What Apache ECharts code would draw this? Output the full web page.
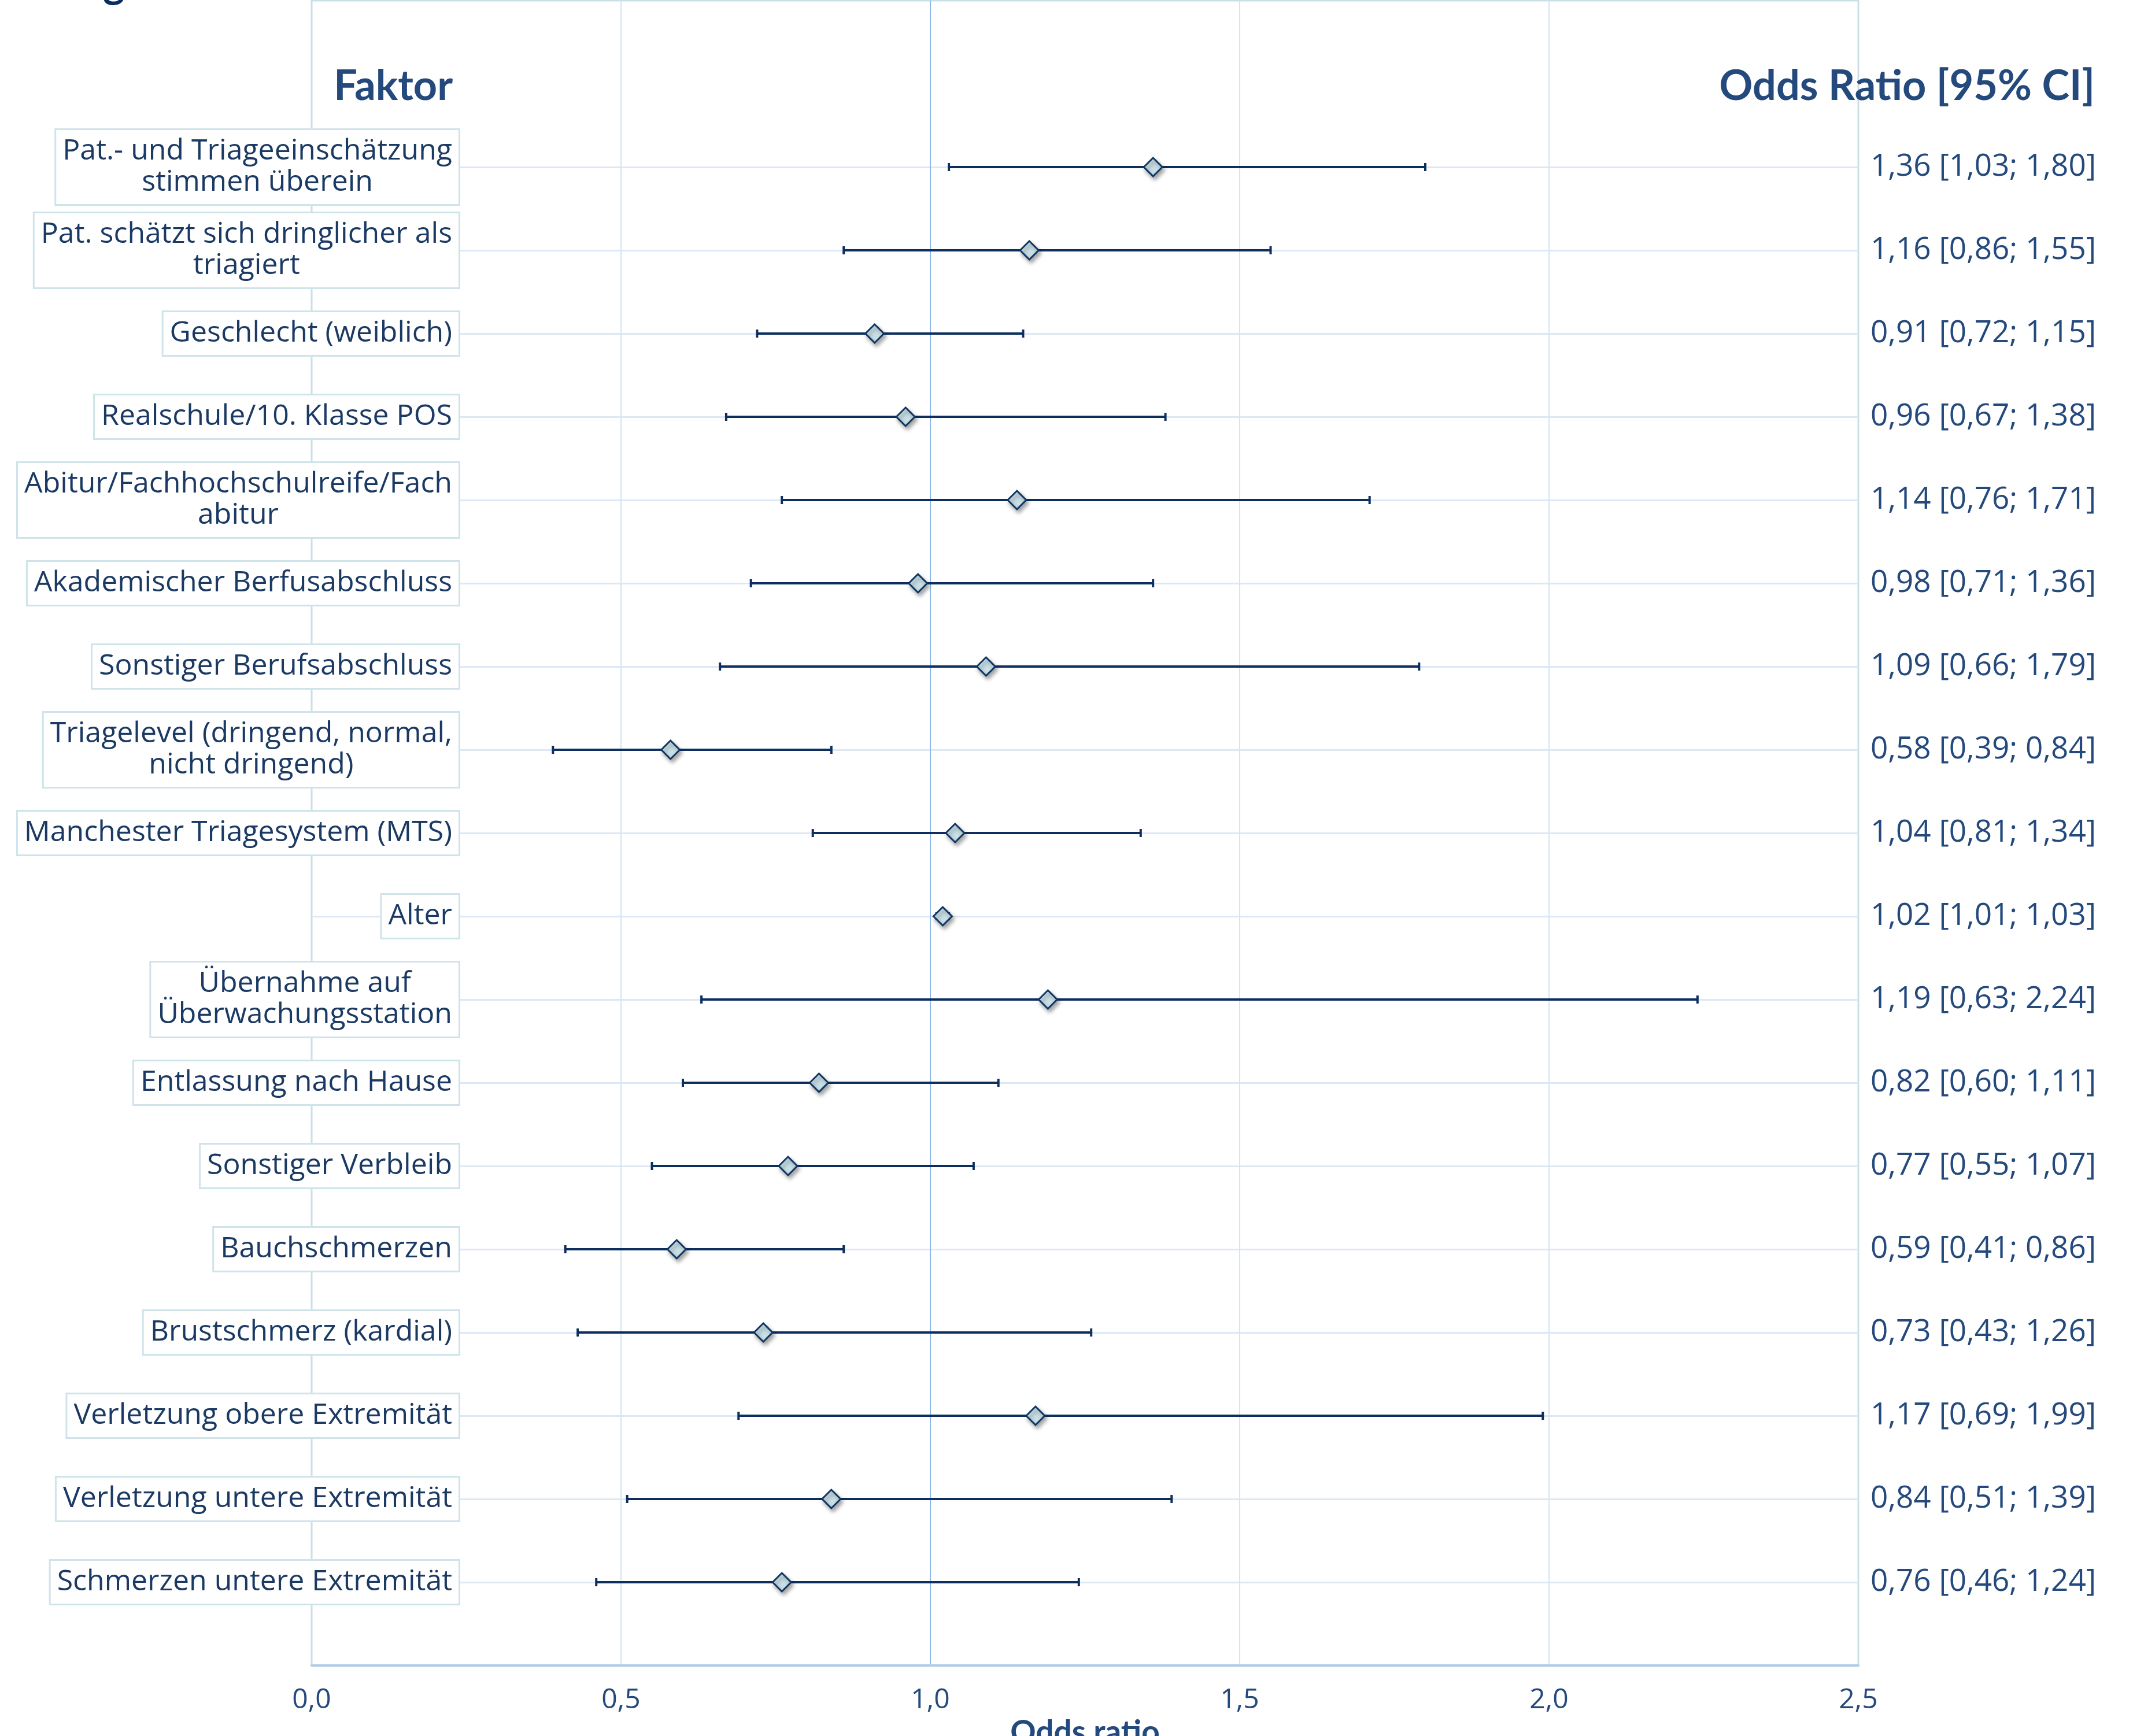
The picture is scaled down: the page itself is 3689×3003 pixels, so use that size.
<!DOCTYPE html>
<html>
<head>
<meta charset="utf-8">
<style>
  html, body { margin: 0; padding: 0; background: #ffffff; }
  #chart { width: 3689px; height: 3003px; }
</style>
<script src="https://cdn.jsdelivr.net/npm/echarts@6/dist/echarts.min.js"></script>
</head>
<body>
<div id="chart"></div>
<script>
// Factors of the logistic regression model (top to bottom)
const factors = [
  'Pat.- und Triageeinschätzung\nstimmen überein',
  'Pat. schätzt sich dringlicher als\ntriagiert',
  'Geschlecht (weiblich)',
  'Realschule/10. Klasse POS',
  'Abitur/Fachhochschulreife/Fach\nabitur',
  'Akademischer Berfusabschluss',
  'Sonstiger Berufsabschluss',
  'Triagelevel (dringend, normal,\nnicht dringend)',
  'Manchester Triagesystem (MTS)',
  'Alter',
  'Übernahme auf\nÜberwachungsstation',
  'Entlassung nach Hause',
  'Sonstiger Verbleib',
  'Bauchschmerzen',
  'Brustschmerz (kardial)',
  'Verletzung obere Extremität',
  'Verletzung untere Extremität',
  'Schmerzen untere Extremität'
];

// Odds ratios with lower / upper 95% confidence limits
const oddsRatio = [1.36, 1.16, 0.91, 0.96, 1.14, 0.98, 1.09, 0.58, 1.04, 1.02, 1.19, 0.82, 0.77, 0.59, 0.73, 1.17, 0.84, 0.76];
const ciLower   = [1.03, 0.86, 0.72, 0.67, 0.76, 0.71, 0.66, 0.39, 0.81, 1.01, 0.63, 0.60, 0.55, 0.41, 0.43, 0.69, 0.51, 0.46];
const ciUpper   = [1.80, 1.55, 1.15, 1.38, 1.71, 1.36, 1.79, 0.84, 1.34, 1.03, 2.24, 1.11, 1.07, 0.86, 1.26, 1.99, 1.39, 1.24];

// x axis ticks
const xTicks = [0, 0.5, 1.0, 1.5, 2.0, 2.5];

const headerLeft = 'Faktor';
const headerRight = 'Odds Ratio [95% CI]';
const xAxisTitle = 'Odds ratio';
const chartTitle = 'Ergebnisse';

// Row layout on the category axes: 0 = top margin, 1 = header row,
// 2..19 = factors, 20 = bottom margin
const FIRST_ROW = 2;
const fmt = v => v.toFixed(2).replace('.', ',');
const ciText = factors.map((_, i) => fmt(oddsRatio[i]) + ' [' + fmt(ciLower[i]) + '; ' + fmt(ciUpper[i]) + ']');
const leftCats = ['', ''].concat(factors).concat(['']);
const rightCats = ['', ''].concat(ciText).concat(['']);
const isFactorRow = idx => idx >= FIRST_ROW && idx < FIRST_ROW + factors.length;

const pointData = oddsRatio.map((v, i) => [v, i + FIRST_ROW]);
const ciData = oddsRatio.map((v, i) => [i + FIRST_ROW, ciLower[i], ciUpper[i]]);

const NAVY = '#0d2f5f';
const TEXT_DARK = '#1b3a63';
const TEXT_BLUE = '#24497c';
const BASE_FONT = '"Open Sans", "Noto Sans", sans-serif';
const HEAD_FONT = 'Lato, "Open Sans", sans-serif';

const chart = echarts.init(document.getElementById('chart'), null, { renderer: 'canvas' });

chart.setOption({
  animation: false,
  backgroundColor: '#ffffff',
  grid: {
    left: 539, right: 475, top: 1, bottom: 122,
    outerBoundsMode: 'none',
    containLabel: false,
    show: true,
    borderColor: '#c9e0e8',
    borderWidth: 3,
    backgroundColor: 'transparent'
  },
  xAxis: {
    type: 'value',
    min: xTicks[0],
    max: xTicks[xTicks.length - 1],
    interval: 0.5,
    axisLine: { show: true, lineStyle: { color: '#afcbe5', width: 4 } },
    axisTick: { show: false },
    axisLabel: {
      margin: 36,
      fontSize: 48,
      fontFamily: BASE_FONT,
      color: TEXT_BLUE,
      formatter: v => v.toFixed(1).replace('.', ',')
    },
    splitLine: {
      show: true,
      lineStyle: {
        width: 2,
        color: ['#c9e0e8', '#d4e5ee', '#90b8e6', '#d4e5ee', '#d4e5ee', '#c9e0e8']
      }
    },
    name: xAxisTitle,
    nameLocation: 'middle',
    nameGap: 82,
    nameTextStyle: {
      fontFamily: HEAD_FONT,
      fontWeight: 'bold',
      fontSize: 55,
      color: TEXT_BLUE,
      verticalAlign: 'top'
    }
  },
  yAxis: [
    {
      // factor names, boxed, overlapping the left part of the plot
      type: 'category',
      data: leftCats,
      inverse: true,
      boundaryGap: false,
      position: 'left',
      z: 5,
      axisLine: { show: false },
      axisTick: { show: false },
      splitLine: { show: false },
      axisLabel: {
        interval: (idx) => isFactorRow(idx),
        margin: -254,
        backgroundColor: '#ffffff',
        borderColor: '#cfe3ea',
        borderWidth: 3,
        padding: [10, 11, 10, 11],
        formatter: v => v.split('\n').map(s => '{c|' + s + '}').join('\n'),
        rich: {
          c: {
            align: 'center',
            fontSize: 50,
            lineHeight: 54,
            fontFamily: BASE_FONT,
            color: TEXT_DARK
          }
        }
      }
    },
    {
      // odds ratio text column on the right, plus row grid lines
      type: 'category',
      data: rightCats,
      inverse: true,
      boundaryGap: false,
      position: 'right',
      z: 0,
      axisLine: { show: false },
      axisTick: { show: false },
      axisLabel: {
        interval: (idx) => isFactorRow(idx),
        margin: 21,
        fontSize: 53,
        fontFamily: BASE_FONT,
        color: TEXT_BLUE
      },
      splitLine: {
        show: true,
        interval: (idx) => isFactorRow(idx),
        lineStyle: { color: '#dde8f4', width: 3 }
      }
    }
  ],
  graphic: [
    {
      type: 'text',
      x: 783, y: 150,
      z: 10,
      style: {
        text: headerLeft,
        align: 'right', verticalAlign: 'middle',
        textAlign: 'right', textVerticalAlign: 'middle',
        font: 'bold 72px ' + HEAD_FONT,
        fill: TEXT_BLUE
      }
    },
    {
      type: 'text',
      x: 3623, y: 150,
      z: 10,
      style: {
        text: headerRight,
        align: 'right', verticalAlign: 'middle',
        textAlign: 'right', textVerticalAlign: 'middle',
        font: 'bold 72px ' + HEAD_FONT,
        fill: TEXT_BLUE
      }
    },
    {
      type: 'text',
      x: 111, y: -28,
      z: 10,
      style: {
        text: chartTitle,
        align: 'left', verticalAlign: 'middle',
        textAlign: 'left', textVerticalAlign: 'middle',
        font: 'bold 72px ' + HEAD_FONT,
        fill: '#0b2e5e'
      }
    }
  ],
  series: [
    {
      // 95% confidence intervals as whiskers with end caps
      type: 'custom',
      xAxisIndex: 0,
      yAxisIndex: 0,
      z: 2,
      encode: { x: [1, 2], y: 0 },
      data: ciData,
      renderItem: function (params, api) {
        const row = api.value(0);
        const a = api.coord([api.value(1), row]);
        const b = api.coord([api.value(2), row]);
        const cap = 7;
        const st = { stroke: NAVY, lineWidth: 4 };
        return {
          type: 'group',
          children: [
            { type: 'line', shape: { x1: a[0], y1: a[1], x2: b[0], y2: b[1] }, style: st },
            { type: 'line', shape: { x1: a[0], y1: a[1] - cap, x2: a[0], y2: a[1] + cap }, style: st },
            { type: 'line', shape: { x1: b[0], y1: b[1] - cap, x2: b[0], y2: b[1] + cap }, style: st }
          ]
        };
      }
    },
    {
      // point estimates
      type: 'scatter',
      xAxisIndex: 0,
      yAxisIndex: 0,
      z: 3,
      symbol: 'diamond',
      symbolSize: [32, 32],
      data: pointData,
      itemStyle: {
        color: '#c9e0e7',
        borderColor: '#0f3563',
        borderWidth: 3,
        opacity: 1,
        shadowColor: 'rgba(0,0,0,0.35)',
        shadowBlur: 7,
        shadowOffsetX: 3,
        shadowOffsetY: 5
      }
    }
  ]
});
</script>
</body>
</html>
